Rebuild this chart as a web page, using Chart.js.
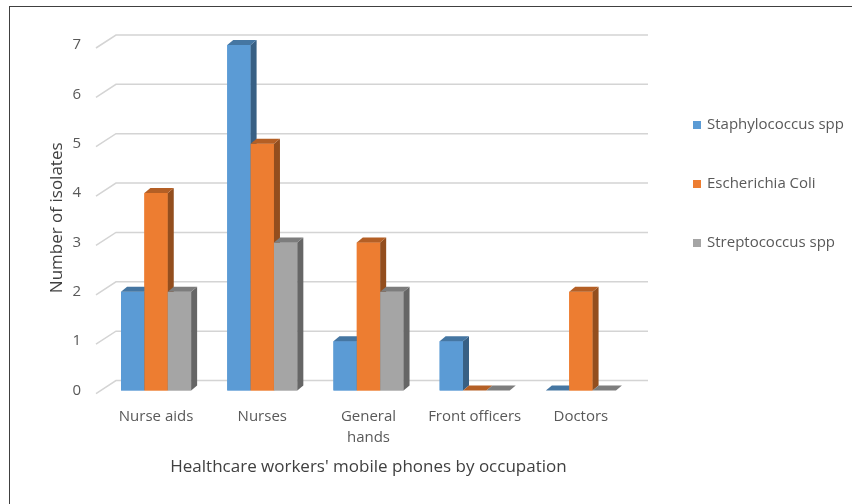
<!DOCTYPE html>
<html>
<head>
<meta charset="utf-8">
<script src="https://cdn.jsdelivr.net/npm/chart.js@4.4.0/dist/chart.umd.min.js"></script>
<style>
html, body { margin: 0; padding: 0; background: #fff; }
#wrap { width: 852px; height: 504px; }
</style>
</head>
<body>
<div id="wrap"><canvas id="canvas" width="852" height="504"></canvas></div>
<script>
// chart data
var categories = ["Nurse aids", "Nurses", ["General", "hands"], "Front officers", "Doctors"];
var seriesNames = ["Staphylococcus spp", "Escherichia Coli", "Streptococcus spp"];
var staphValues = [2, 7, 1, 1, 0];
var ecoliValues = [4, 5, 3, 0, 2];
var strepValues = [2, 3, 2, 0, 0];
var yTicks = [0, 1, 2, 3, 4, 5, 6, 7];

var colors = ['#5B9BD5', '#ED7D31', '#A5A5A5'];
var FONT = "'Open Sans', Lato, sans-serif";

function shade(hex, f) {
	var n = parseInt(hex.slice(1), 16);
	var r = Math.round(((n >> 16) & 255) * f);
	var g = Math.round(((n >> 8) & 255) * f);
	var b = Math.round((n & 255) * f);
	return 'rgb(' + r + ',' + g + ',' + b + ')';
}

// fake 3d: back wall gridlines, bar sides/tops, frame, legend
var DX = 6, DY = 5;
var look3d = {
	id: 'look3d',
	beforeDraw: function(chart) {
		var ctx = chart.ctx;
		ctx.save();
		ctx.strokeStyle = '#404040';
		ctx.lineWidth = 1;
		ctx.strokeRect(9.5, 6.5, 900, 600);
		ctx.restore();
	},
	beforeDatasetsDraw: function(chart) {
		var ctx = chart.ctx, area = chart.chartArea, y = chart.scales.y;
		ctx.save();
		ctx.strokeStyle = '#d4d4d4';
		ctx.lineWidth = 1.5;
		yTicks.forEach(function(t) {
			var py = y.getPixelForValue(t);
			ctx.beginPath();
			ctx.moveTo(area.left - 7, py + 3);
			ctx.lineTo(area.left + 13, py - 10);
			ctx.lineTo(area.right + 14, py - 10);
			ctx.stroke();
		});
		ctx.restore();
	},
	afterDatasetsDraw: function(chart) {
		var ctx = chart.ctx;
		ctx.save();
		for (var i = 0; i < categories.length; i++) {
			for (var d = 0; d < chart.data.datasets.length; d++) {
				var el = chart.getDatasetMeta(d).data[i];
				var c = colors[d];
				var xl = el.x - el.width / 2, xr = el.x + el.width / 2;
				var top = el.y, base = el.base;
				ctx.fillStyle = c;
				ctx.fillRect(xl, top, xr - xl, base - top);
				ctx.fillStyle = shade(c, 0.62);
				ctx.beginPath();
				ctx.moveTo(xr, top);
				ctx.lineTo(xr + DX, top - DY);
				ctx.lineTo(xr + DX, base - DY);
				ctx.lineTo(xr, base);
				ctx.closePath();
				ctx.fill();
				ctx.fillStyle = shade(c, 0.76);
				ctx.beginPath();
				ctx.moveTo(xl, top);
				ctx.lineTo(xl + DX, top - DY);
				ctx.lineTo(xr + DX, top - DY);
				ctx.lineTo(xr, top);
				ctx.closePath();
				ctx.fill();
			}
		}
		ctx.restore();
	},
	afterDraw: function(chart) {
		var ctx = chart.ctx;
		ctx.save();
		ctx.font = '15px ' + FONT;
		ctx.textBaseline = 'middle';
		chart.data.datasets.forEach(function(ds, k) {
			var cy = 125 + k * 59;
			ctx.fillStyle = colors[k];
			ctx.fillRect(693, cy - 4, 8, 8);
			ctx.fillStyle = '#595959';
			ctx.fillText(ds.label, 707, cy);
		});
		ctx.restore();
	}
};

var datasets = [staphValues, ecoliValues, strepValues].map(function(vals, k) {
	return {
		label: seriesNames[k],
		data: vals,
		backgroundColor: colors[k],
		categoryPercentage: 0.66,
		barPercentage: 1.0
	};
});

var ctx = document.getElementById('canvas').getContext('2d');
window.myBar = new Chart(ctx, {
	type: 'bar',
	data: { labels: categories, datasets: datasets },
	options: {
		responsive: false,
		animation: false,
		layout: { padding: { top: 45, right: 218, left: 47, bottom: 27 } },
		plugins: {
			legend: { display: false },
			tooltip: { enabled: false }
		},
		scales: {
			x: {
				grid: { display: false, drawTicks: false },
				border: { display: false },
				ticks: {
					color: '#595959',
					font: { family: FONT, size: 15, lineHeight: 1.4 },
					padding: 16,
					maxRotation: 0,
					autoSkip: false
				},
				title: {
					display: true,
					text: "Healthcare workers' mobile phones by occupation",
					color: '#404040',
					font: { family: FONT, size: 17 },
					padding: { top: -8, bottom: 0 }
				}
			},
			y: {
				min: 0,
				max: 7,
				grid: { display: false, drawTicks: false },
				border: { display: false },
				ticks: {
					stepSize: 1,
					color: '#595959',
					font: { family: FONT, size: 15 },
					padding: 22
				},
				title: {
					display: true,
					text: 'Number of isolates',
					color: '#404040',
					font: { family: FONT, size: 17 },
					padding: { top: 0, bottom: -17 }
				}
			}
		}
	},
	plugins: [look3d]
});
</script>
</body>
</html>
